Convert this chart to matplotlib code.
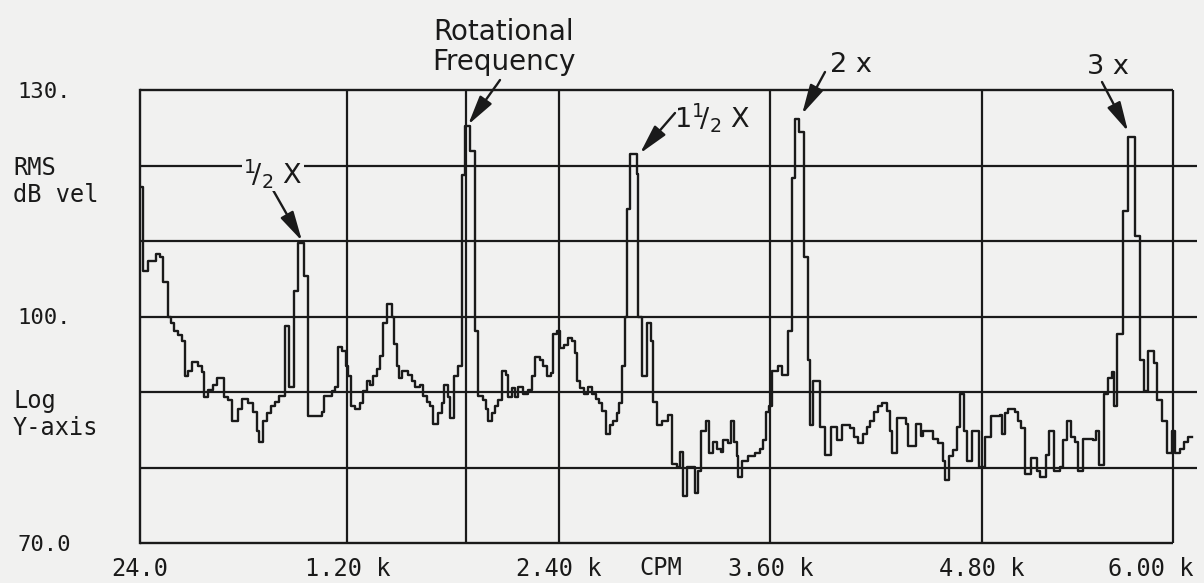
import numpy as np
import matplotlib.pyplot as plt

# spectrum trace: CPM where each step starts, level in dB
cpm = [24, 41, 69, 115, 137, 154, 183, 200, 217, 240, 262, 279, 296, 319, 353, 376, 387, 410, 438, 461,
       500, 523, 546, 580, 603, 637, 665, 688, 699, 722, 744, 767, 790, 812, 846, 869, 897, 920, 954, 977,
       1056, 1068, 1113, 1130, 1147, 1170, 1192, 1204, 1221, 1243, 1272, 1289, 1312, 1329, 1346, 1368, 1385, 1402, 1425, 1453,
       1465, 1482, 1493, 1510, 1544, 1567, 1584, 1612, 1629, 1652, 1669, 1686, 1714, 1737, 1748, 1771, 1782, 1805, 1828, 1850,
       1867, 1896, 1924, 1941, 1970, 1987, 1998, 2021, 2038, 2055, 2077, 2100, 2111, 2134, 2151, 2168, 2196, 2225, 2247, 2264,
       2293, 2310, 2333, 2355, 2367, 2389, 2406, 2429, 2452, 2474, 2491, 2503, 2520, 2542, 2565, 2588, 2610, 2627, 2645, 2667,
       2690, 2707, 2730, 2741, 2758, 2775, 2786, 2803, 2843, 2849, 2871, 2900, 2922, 2934, 2956, 2985, 3019, 3041, 3070, 3087,
       3104, 3127, 3172, 3189, 3206, 3234, 3251, 3274, 3297, 3319, 3331, 3359, 3376, 3393, 3410, 3416, 3439, 3473, 3512, 3541,
       3558, 3575, 3592, 3609, 3643, 3665, 3699, 3722, 3739, 3762, 3790, 3813, 3824, 3841, 3881, 3909, 3943, 3977, 4006, 4051,
       4074, 4096, 4125, 4148, 4165, 4187, 4210, 4233, 4261, 4278, 4289, 4318, 4369, 4380, 4425, 4454, 4465, 4522, 4550, 4579,
       4590, 4613, 4635, 4658, 4675, 4698, 4715, 4743, 4783, 4817, 4851, 4902, 4913, 4930, 4947, 4987, 5004, 5021, 5044, 5078,
       5112, 5129, 5163, 5180, 5208, 5242, 5259, 5282, 5304, 5327, 5344, 5373, 5429, 5446, 5463, 5492, 5514, 5537, 5548, 5565,
       5600, 5628, 5668, 5696, 5719, 5741, 5775, 5792, 5821, 5849, 5877, 5894, 5923, 5946, 5969, 5991]
db = [117.2, 106.0, 107.4, 108.3, 107.9, 104.6, 100.0, 99.1, 98.1, 97.5, 96.7, 92.1, 92.8, 94.0, 93.4, 92.7, 89.4, 90.2, 90.9, 91.8,
      89.4, 88.9, 86.1, 87.8, 89.1, 88.5, 87.4, 84.9, 83.4, 86.2, 87.2, 88.1, 88.7, 89.5, 98.7, 90.7, 103.4, 109.7, 105.3, 86.8,
      87.4, 89.5, 90.1, 90.7, 96.0, 95.4, 93.5, 92.1, 88.1, 87.8, 88.5, 90.1, 91.5, 90.9, 92.1, 93.1, 94.8, 99.1, 101.7, 100.0,
      96.4, 93.4, 91.8, 92.8, 92.2, 91.5, 90.7, 90.9, 89.5, 88.7, 88.2, 85.8, 87.2, 88.5, 90.9, 89.4, 86.5, 92.1, 93.4, 118.7,
      125.2, 121.9, 98.1, 89.5, 88.9, 87.8, 86.1, 87.2, 88.2, 88.9, 92.8, 92.2, 89.4, 90.5, 89.4, 90.7, 89.8, 90.2, 92.1, 94.7,
      94.2, 93.4, 92.1, 92.5, 97.7, 98.1, 95.8, 96.2, 97.1, 96.8, 95.1, 91.4, 90.5, 89.8, 90.7, 89.8, 89.1, 88.5, 87.5, 84.5,
      85.6, 86.1, 87.2, 88.5, 93.4, 100.0, 114.2, 121.5, 118.9, 100.0, 92.1, 99.1, 96.8, 88.7, 85.6, 86.1, 86.9, 80.5, 80.1, 82.1,
      76.2, 80.1, 76.6, 79.6, 84.8, 86.1, 81.9, 83.4, 82.5, 82.1, 83.6, 83.2, 86.1, 83.4, 81.5, 78.8, 80.9, 81.5, 81.9, 82.5,
      83.6, 87.4, 88.2, 92.8, 93.5, 92.2, 98.1, 118.3, 126.2, 124.5, 107.9, 94.2, 85.6, 91.5, 85.4, 81.6, 85.4, 83.6, 85.6, 85.2,
      84.1, 83.2, 84.5, 85.4, 86.2, 87.4, 88.1, 88.5, 87.5, 84.9, 81.9, 86.5, 85.8, 82.8, 85.8, 84.2, 84.9, 83.8, 83.2, 80.9,
      78.3, 81.5, 82.3, 85.4, 89.8, 84.9, 80.8, 84.9, 80.1, 84.1, 86.8, 86.9, 84.5, 87.2, 87.8, 87.4, 86.2, 85.2, 79.2, 81.2,
      79.6, 78.8, 81.6, 84.8, 79.6, 80.1, 83.6, 86.1, 84.1, 83.4, 79.5, 83.8, 83.6, 84.8, 80.3, 89.8, 91.8, 92.7, 88.1, 97.7,
      114.0, 123.8, 110.6, 94.2, 90.1, 95.4, 93.8, 88.9, 86.2, 81.9, 84.9, 81.9, 82.5, 83.4, 84.1, 84.1]

x_ticks = [24, 1200, 2400, 3600, 4800, 6000]
x_labels = ['24.0', '1.20 k', '2.40 k', '3.60 k', '4.80 k', '6.00 k']
y_ticks = [70, 100, 130]
y_labels = ['70.0', '100.', '130.']
grid_db = [80, 90, 100, 110, 120]
grid_cpm = [1200, 2400, 3600, 4800]
run_speed = 1873      # cursor line at rotational frequency
frame_end = 5883      # right edge of the drawn frame

# peaks the arrows point at (cpm, dB)
half_x = (943, 110.0)
one_x = (1885, 125.4)
one_half_x = (2860, 121.6)
two_x = (3779, 126.8)
three_x = (5628, 124.5)

paper = '#f1f1f0'
ink = '#1a1a1a'
mono = 'DejaVu Sans Mono'

W, H = 1204, 583
fx = lambda px: px / W
fy = lambda py: 1 - py / H

fig = plt.figure(figsize=(W / 100, H / 100), dpi=100, facecolor=paper)
ax = fig.add_axes([fx(140), fy(543), (1197 - 140) / W, (543 - 90) / H])
ax.set_facecolor(paper)
ax.set_xlim(24, 6019)
ax.set_ylim(70, 130)
for s in ['top', 'right', 'bottom']:
    ax.spines[s].set_visible(False)
ax.spines['left'].set_color(ink)
ax.spines['left'].set_linewidth(1.7)

ax.hlines(grid_db, 24, 6019, color=ink, lw=1.6)
ax.hlines([70, 130], 24, frame_end, color=ink, lw=1.7, clip_on=False)
ax.vlines(grid_cpm + [run_speed, frame_end], 70, 130, color=ink, lw=1.6)

ax.step(cpm, db, where='post', color=ink, lw=1.7)

ax.set_xticks(x_ticks, x_labels, fontfamily=mono, fontsize=17, color=ink)
ax.tick_params(axis='x', length=0, pad=10)
ax.get_xticklabels()[-1].set_ha('right')
ax.set_yticks(y_ticks, y_labels, fontfamily=mono, fontsize=16, color=ink)
ax.tick_params(axis='y', length=0, pad=50)

ax.text(2980, -0.055, 'CPM', transform=ax.get_xaxis_transform(), ha='center', va='center',
        fontfamily=mono, fontsize=17, color=ink)

for txt, py in [('RMS', 168), ('dB vel', 195), ('Log', 401), ('Y-axis', 428)]:
    fig.text(fx(13), fy(py), txt, ha='left', va='center', fontfamily=mono, fontsize=17, color=ink)

arrow = dict(arrowstyle='-|>,head_length=0.9,head_width=0.22', mutation_scale=20,
             color=ink, lw=1.7, shrinkA=0, shrinkB=0)
ann = dict(fontsize=19.5, color=ink, va='center')

fig.text(fx(504), fy(47), 'Rotational\nFrequency', ha='center', linespacing=1.05, **{**ann, 'fontsize': 20})
ax.annotate('', xy=one_x, xytext=(fx(500), fy(80)), textcoords='figure fraction',
            arrowprops=arrow, annotation_clip=False)

fig.text(fx(273), fy(173), r'$^1\!/_2$ X', ha='center',
         bbox=dict(facecolor=paper, edgecolor='none', pad=1), **ann)
ax.annotate('', xy=half_x, xytext=(fx(273), fy(190)), textcoords='figure fraction',
            arrowprops=arrow, annotation_clip=False)

fig.text(fx(674), fy(117), r'1$^1\!/_2$ X', ha='left', **ann)
ax.annotate('', xy=one_half_x, xytext=(fx(675), fy(113)), textcoords='figure fraction',
            arrowprops=arrow, annotation_clip=False)

fig.text(fx(830), fy(65), '2 x', ha='left', **ann)
ax.annotate('', xy=two_x, xytext=(fx(825), fy(72)), textcoords='figure fraction',
            arrowprops=arrow, annotation_clip=False)

fig.text(fx(1087), fy(67), '3 x', ha='left', **ann)
ax.annotate('', xy=three_x, xytext=(fx(1102), fy(82)), textcoords='figure fraction',
            arrowprops=arrow, annotation_clip=False)

fig.savefig('out.png', dpi=100, facecolor=paper)
